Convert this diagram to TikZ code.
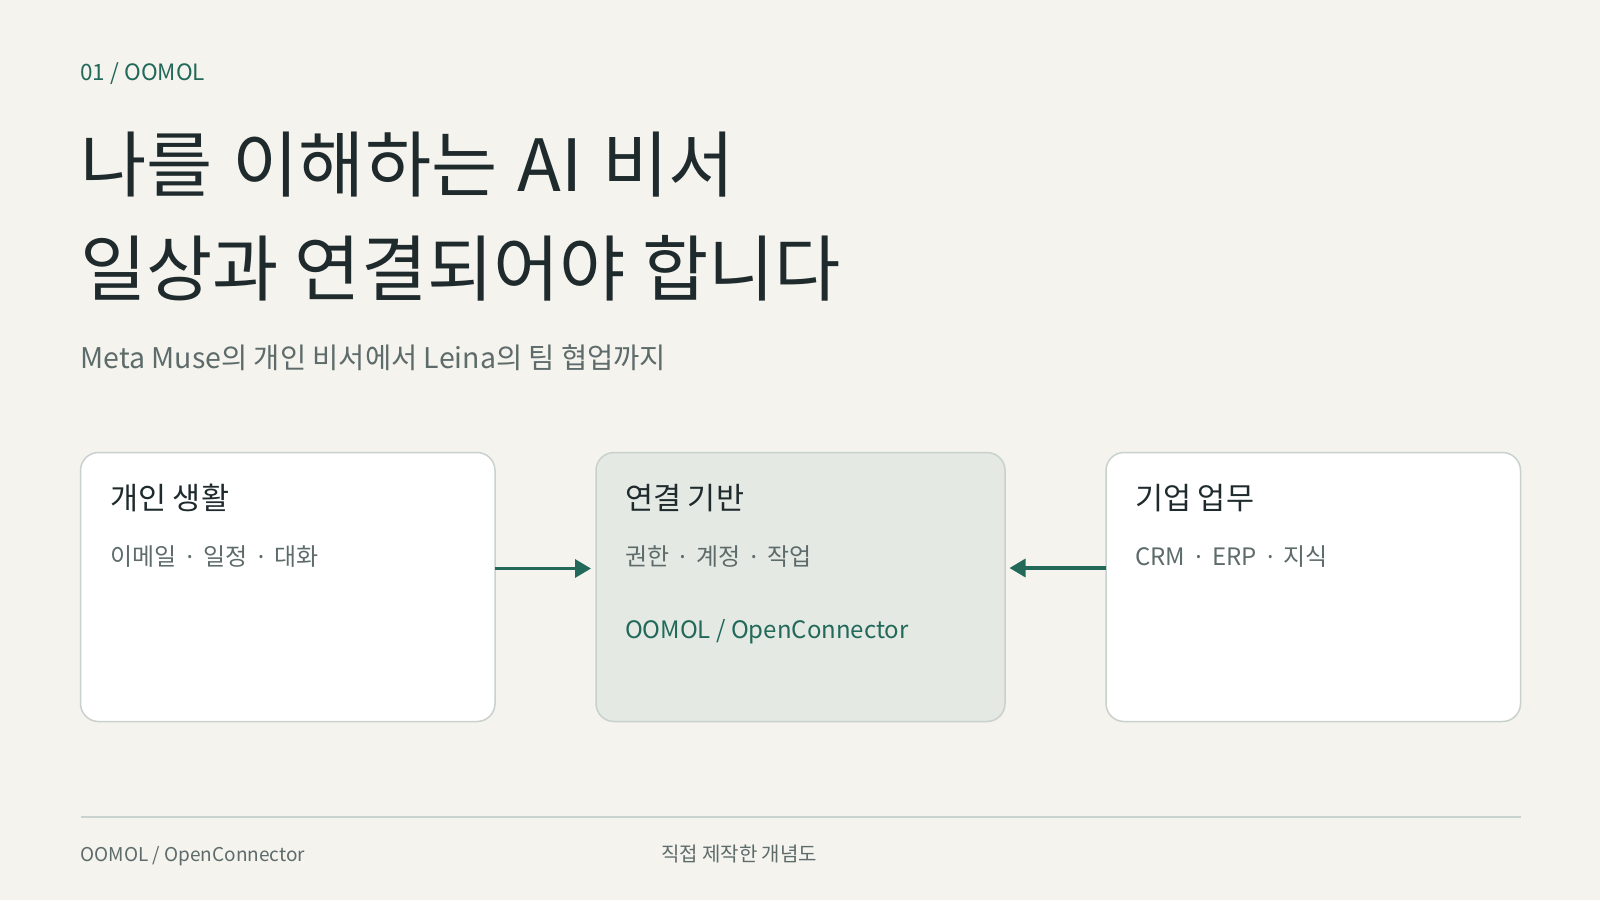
\documentclass[tikz,border=0pt]{standalone}
\usepackage{fontspec}
\setmainfont{Noto Sans CJK KR}
\newfontfamily\latinfont{Noto Sans}
\usetikzlibrary{arrows.meta}
\definecolor{bg}{HTML}{F4F3EE}
\definecolor{teal}{HTML}{22695A}
\definecolor{ink}{HTML}{1F2A2D}
\definecolor{muted}{HTML}{5E6B6B}
\definecolor{edge}{HTML}{C9D1CE}
\definecolor{hub}{HTML}{E4E9E4}
\definecolor{rule}{HTML}{C8D2CF}
\newcommand{\sepdot}{\hspace{0.43em}{\latinfont ·}\hspace{0.43em}}
\tikzset{
  card/.style={draw=edge, line width=1.5pt, rounded corners=18pt},
  txt/.style={anchor=base west, inner sep=0pt, outer sep=0pt},
  cardtitle/.style={txt, text=ink, font=\fontsize{30.5}{36}\selectfont},
  cardsub/.style={txt, text=muted, font=\fontsize{24}{29}\selectfont},
  flow/.style={draw=teal, line width=3.3pt, -{Triangle[length=16pt,width=18pt]}},
}
\begin{document}
\begin{tikzpicture}[x=1pt,y=-1pt]
\path[fill=bg] (0,0) rectangle (1600,900);
\useasboundingbox (0,0) rectangle (1600,900);
% header
\node[txt, text=teal, font=\fontsize{22.5}{27}\selectfont] (kicker) at (80.5,80) {01 / OOMOL};
\node[txt, text=ink, font=\fontsize{72}{84}\selectfont] (title1) at (80,191) {나를\hspace{0.28em}이해하는\hspace{0.28em}AI\hspace{0.28em}비서};
\node[txt, text=ink, font=\fontsize{72}{84}\selectfont] (title2) at (80,295) {일상과 연결되어야 합니다};
\node[txt, text=muted, font=\fontsize{28.5}{34}\selectfont] (subtitle) at (80.5,368) {Meta Muse의 개인 비서에서 Leina의 팀 협업까지};
% cards
\draw[card, fill=white] (80.5,452.5) rectangle (495,721.5);
\coordinate (c1e) at (495,568.5);
\draw[card, fill=hub] (596,452.5) rectangle (1005,721.5);
\coordinate (c2w) at (591,568.5);
\coordinate (c2e) at (1009.5,568);
\draw[card, fill=white] (1106,452.5) rectangle (1520.5,721.5);
\coordinate (c3w) at (1106,568);
% card texts
\node[cardtitle] (t1) at (110,509) {개인 생활};
\node[cardsub] (s1) at (110,565) {이메일\sepdot 일정\sepdot 대화};
\node[cardtitle] (t2) at (625,509) {연결 기반};
\node[cardsub] (s2) at (625,565) {권한\sepdot 계정\sepdot 작업};
\node[txt, text=teal, font=\fontsize{24}{29}\selectfont] (s2b) at (625,638) {OOMOL / OpenConnector};
\node[cardtitle] (t3) at (1135,509) {기업 업무};
\node[cardsub] (s3) at (1135,565) {CRM\sepdot ERP\sepdot 지식};
% arrows
\draw[flow] (c1e) -- (c2w);
\draw[flow] (c3w) -- (c2e);
% footer
\coordinate (rl) at (80.5,816.5);
\coordinate (rr) at (1520.5,816.5);
\draw[draw=rule, line width=2pt] (rl) -- (rr);
\node[txt, text=muted, font=\fontsize{19}{23}\selectfont] (f1) at (80.5,861) {OOMOL / OpenConnector};
\node[txt, text=muted, font=\fontsize{20}{24}\selectfont] (f2) at (661,861) {직접 제작한 개념도};
\end{tikzpicture}
\end{document}
